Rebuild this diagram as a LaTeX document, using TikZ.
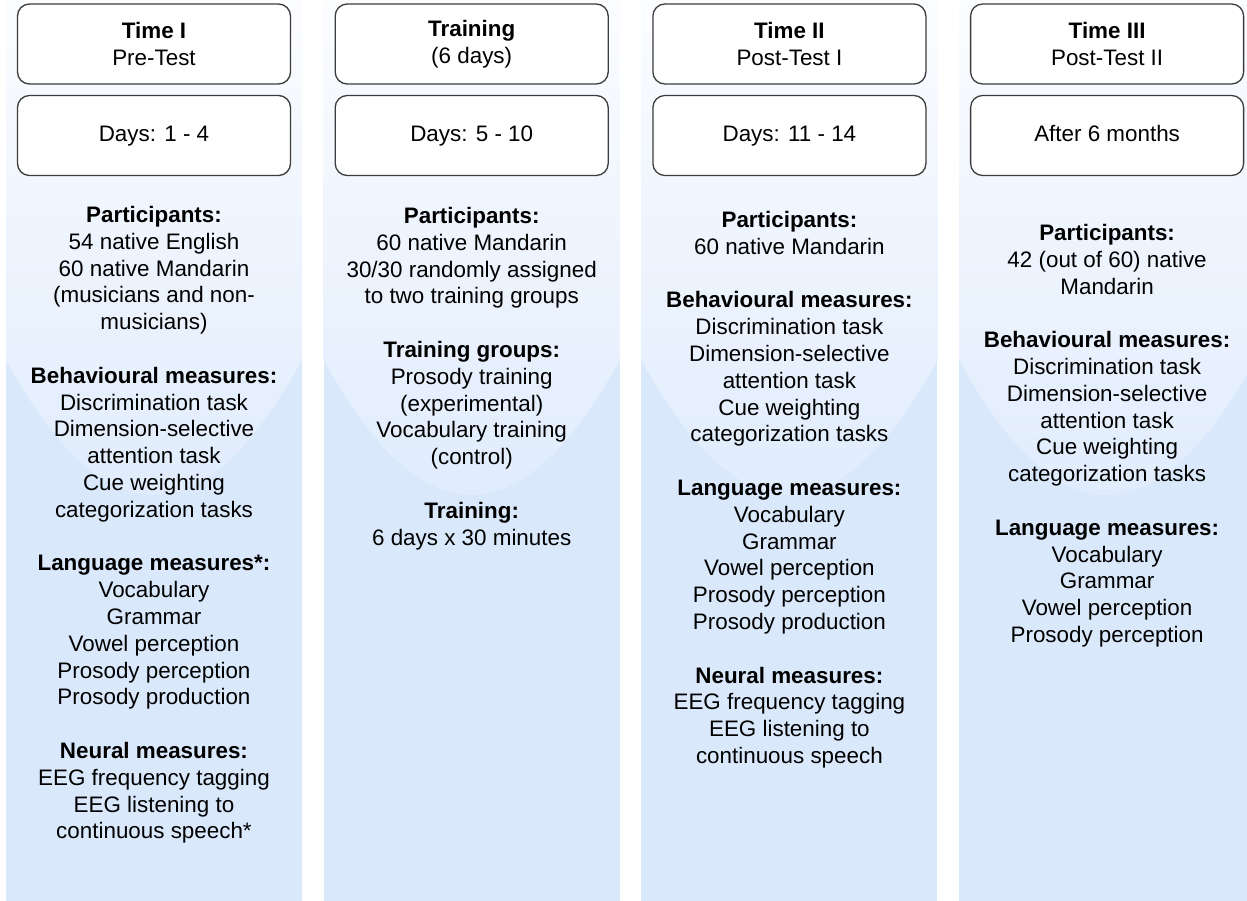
\documentclass[tikz,border=0pt]{standalone}
\usepackage{fontspec}
\setmainfont{Liberation Sans}
\definecolor{colfill}{HTML}{DAE8FC}
\definecolor{boxline}{HTML}{3C3C3C}
\newcommand\phasefont{\fontsize{22.4}{26.8}\selectfont}
\newcommand\gap{\\[26.8pt]}
\tikzset{
  phasebox/.style={draw=boxline,line width=1.3pt,fill=white,rounded corners=12pt,
    minimum width=273pt,minimum height=80pt,inner sep=0pt,align=center,font=\phasefont},
  itemlist/.style={anchor=north,inner sep=0pt,align=center,font=\phasefont}
}
\begin{document}
\begin{tikzpicture}[x=1pt,y=-1pt]
\useasboundingbox (0,0) rectangle (1247,901);
% columns, with the glass highlight on top
\foreach \i in {0,...,3}{
  \pgfmathsetmacro\xl{6+317.7*\i}
  \fill[colfill] (\xl,0) rectangle ++(296,901);
  \begin{scope}
    \clip (\xl,0) -- (\xl,360) .. controls (\xl+98.7,540) and (\xl+197.3,540) .. (\xl+296,360) -- (\xl+296,0) -- cycle;
    \shade[top color=white!90!colfill,bottom color=white!10!colfill] (\xl,0) rectangle ++(296,540);
  \end{scope}
}
% phase boxes
\foreach \i/\ttl/\subt/\dys in {0/Time I/Pre-Test/Days: 1 - 4,1/Training/(6 days)/Days: 5 - 10,2/Time II/Post-Test I/Days: 11 - 14,3/Time III/Post-Test II/After 6 months}{
  \node[phasebox] (head\i) at (154+317.7*\i,44) {\textbf{\ttl}\\\subt};
  \node[phasebox,text height=16pt,text depth=3pt] (days\i) at (154+317.7*\i,135.5) {\dys};
}
% what happens in each phase
\node[itemlist] (list0) at (154,206) {\textbf{Participants:}\\54 native English\\60 native Mandarin\\(musicians and non-\\musicians)\gap
\textbf{Behavioural measures:}\\Discrimination task\\Dimension-selective\\attention task\\Cue weighting\\categorization tasks\gap
\textbf{Language measures*:}\\Vocabulary\\Grammar\\Vowel perception\\Prosody perception\\Prosody production\gap
\textbf{Neural measures:}\\EEG frequency tagging\\EEG listening to\\continuous speech*};
\node[itemlist] (list1) at (471.7,207) {\textbf{Participants:}\\60 native Mandarin\\30/30 randomly assigned\\to two training groups\gap
\textbf{Training groups:}\\Prosody training\\(experimental)\\Vocabulary training\\(control)\gap
\textbf{Training:}\\6 days x 30 minutes};
\node[itemlist] (list2) at (789.4,211) {\textbf{Participants:}\\60 native Mandarin\gap
\textbf{Behavioural measures:}\\Discrimination task\\Dimension-selective\\attention task\\Cue weighting\\categorization tasks\gap
\textbf{Language measures:}\\Vocabulary\\Grammar\\Vowel perception\\Prosody perception\\Prosody production\gap
\textbf{Neural measures:}\\EEG frequency tagging\\EEG listening to\\continuous speech};
\node[itemlist] (list3) at (1107.1,224) {\textbf{Participants:}\\42 (out of 60) native\\Mandarin\gap
\textbf{Behavioural measures:}\\Discrimination task\\Dimension-selective\\attention task\\Cue weighting\\categorization tasks\gap
\textbf{Language measures:}\\Vocabulary\\Grammar\\Vowel perception\\Prosody perception};
\end{tikzpicture}
\end{document}
